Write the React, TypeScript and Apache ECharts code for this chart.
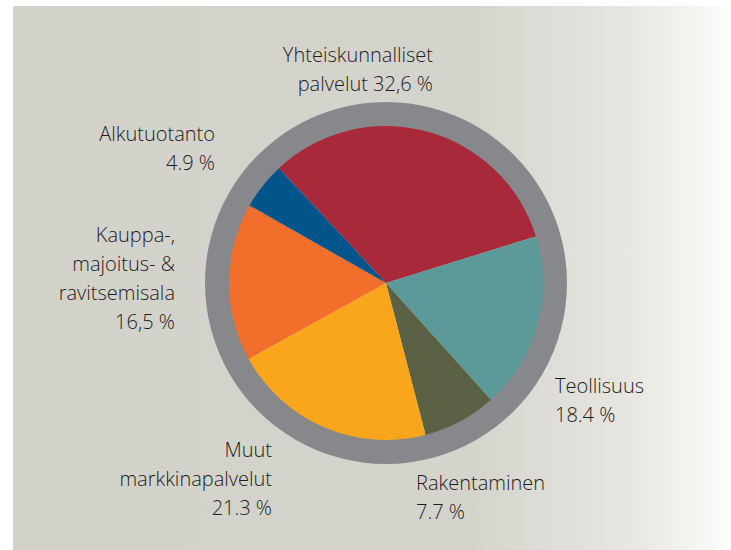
import React, { useEffect, useRef } from "react";
import * as echarts from "echarts";

const categories = [
  "Yhteiskunnalliset palvelut",
  "Teollisuus",
  "Rakentaminen",
  "Muut markkinapalvelut",
  "Kauppa-, majoitus- & ravitsemisala",
  "Alkutuotanto",
];
const values = [32.6, 18.4, 7.7, 21.3, 16.5, 4.9];
const labelTexts = [
  "Yhteiskunnalliset\npalvelut 32,6 %",
  "Teollisuus\n18.4 %",
  "Rakentaminen\n7.7 %",
  "Muut\nmarkkinapalvelut\n21.3 %",
  "Kauppa-,\nmajoitus- &\nravitsemisala\n16,5 %",
  "Alkutuotanto\n4.9 %",
];
const colors = ["#A8293A", "#5B9A98", "#5B6145", "#F9A61C", "#F26E2B", "#02558B"];

// label anchor positions (layout only)
const labelPos: { x: number; y: number; align: "left" | "right" }[] = [
  { x: 433, y: 40, align: "right" },
  { x: 555, y: 371, align: "left" },
  { x: 416, y: 468, align: "left" },
  { x: 272, y: 435, align: "right" },
  { x: 175, y: 220, align: "right" },
  { x: 215, y: 119, align: "right" },
];

export default function App() {
  const ref = useRef<HTMLDivElement>(null);
  useEffect(() => {
    document.body.style.margin = "0";
    const chart = echarts.init(ref.current!, null, { renderer: "svg" });
    chart.setOption({
      animation: false,
      backgroundColor: "#ffffff",
      graphic: [
        {
          type: "rect",
          z: -10,
          silent: true,
          shape: { x: 13, y: 6, width: 718, height: 544 },
          style: {
            fill: {
              type: "linear",
              x: 0, y: 0, x2: 1, y2: 0,
              colorStops: [
                { offset: 0, color: "#D3D2CA" },
                { offset: 0.64, color: "#D5D4CC" },
                { offset: 0.85, color: "#E6E5E0" },
                { offset: 0.97, color: "#F7F7F5" },
                { offset: 1, color: "#FFFFFF" },
              ],
            },
          },
        },
        ...labelTexts.map((t, i) => ({
          type: "text",
          x: labelPos[i].x,
          y: labelPos[i].y,
          z: 10,
          style: {
            text: t,
            fill: "#1E1C1C",
            fontFamily: "Open Sans",
            fontWeight: 300,
            fontSize: 20,
            lineHeight: 29,
            align: labelPos[i].align,
            verticalAlign: "top",
          },
        })),
      ],
      series: [
        {
          type: "pie",
          silent: true,
          center: [386, 283],
          radius: [155, 181],
          z: 1,
          label: { show: false },
          labelLine: { show: false },
          itemStyle: { color: "#87888C" },
          data: [{ value: 1, name: "ring" }],
        },
        {
          type: "pie",
          silent: true,
          center: [386, 283],
          radius: [0, 157],
          startAngle: 133,
          clockwise: true,
          z: 2,
          label: { show: false },
          labelLine: { show: false },
          data: categories.map((c, i) => ({
            name: c,
            value: values[i],
            itemStyle: { color: colors[i] },
          })),
        },
      ],
    });
    return () => chart.dispose();
  }, []);
  return <div ref={ref} style={{ width: 731, height: 550 }} />;
}
